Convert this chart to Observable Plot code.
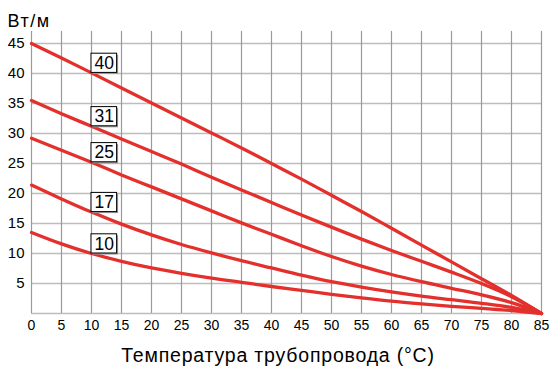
<!DOCTYPE html>
<html>
<head>
<meta charset="utf-8">
<style>
  body { margin: 0; background: #fff; }
  #chart svg { font-family: "Liberation Sans", Arial, sans-serif; color: #000; }
</style>
<script src="https://cdn.jsdelivr.net/npm/d3@7"></script>
<script src="https://cdn.jsdelivr.net/npm/@observablehq/plot@0.6"></script>
</head>
<body>
<div id="chart"></div>
<script>
// Pipe temperature (°C)
const temps = [0, 5, 10, 15, 20, 25, 30, 35, 40, 45, 50, 55, 60, 65, 70, 75, 80, 85];
// Heat output (W/m) per cable type
const w40 = [45, 42.6, 40.1, 37.6, 35.1, 32.6, 30.1, 27.6, 25.0, 22.4, 19.7, 17.0, 14.2, 11.4, 8.6, 5.8, 3.0, 0];
const w31 = [35.5, 33.3, 31.2, 29.1, 27.0, 24.9, 22.7, 20.6, 18.5, 16.4, 14.4, 12.4, 10.5, 8.7, 6.9, 5.0, 2.8, 0];
const w25 = [29.2, 27.2, 25.2, 23.1, 21.1, 19.1, 17.1, 15.1, 13.2, 11.3, 9.5, 7.9, 6.5, 5.3, 4.2, 3.1, 1.8, 0];
const w17 = [21.4, 19.1, 16.9, 14.9, 13.1, 11.5, 10.1, 8.8, 7.6, 6.4, 5.3, 4.4, 3.6, 2.9, 2.3, 1.7, 1.0, 0];
const w10 = [13.5, 11.6, 10.0, 8.7, 7.6, 6.7, 5.9, 5.2, 4.5, 3.85, 3.2, 2.6, 2.05, 1.6, 1.2, 0.85, 0.5, 0];
const seriesNames = ["40", "31", "25", "17", "10"];
const seriesValues = [w40, w31, w25, w17, w10];
const labelTemp = 10;

const xTicks = [0, 5, 10, 15, 20, 25, 30, 35, 40, 45, 50, 55, 60, 65, 70, 75, 80, 85];
const yTicks = [5, 10, 15, 20, 25, 30, 35, 40, 45];
const yGrid = [0, 5, 10, 15, 20, 25, 30, 35, 40, 45];
const yLabel = "Вт/м";
const xLabel = "Температура трубопровода (°C)";

const rows = seriesNames.flatMap((name, i) =>
  temps.map((t, j) => ({series: name, t, w: seriesValues[i][j]})));
const labels = seriesNames.map((name, i) =>
  ({series: name, t: labelTemp, w: seriesValues[i][temps.indexOf(labelTemp)]}));

// label box size in data units (styling)
const boxW = 4.27, boxH = 3.2;

const chart = Plot.plot({
  width: 553,
  height: 380,
  marginLeft: 31,
  marginRight: 12,
  marginTop: 31,
  marginBottom: 67,
  x: {domain: [0, 85]},
  y: {domain: [0, 47]},
  marks: [
    Plot.gridY(yGrid, {stroke: "#bdbdbd", strokeOpacity: 1, strokeWidth: 1.6}),
    Plot.gridX(xTicks, {stroke: "#9a9a9a", strokeOpacity: 1, strokeWidth: 1.2}),
    Plot.axisX(xTicks, {tickSize: 0, tickPadding: 7, fontSize: 14, label: null}),
    Plot.axisY(yTicks, {tickSize: 0, tickPadding: 7, fontSize: 15, label: null}),
    Plot.line(rows, {x: "t", y: "w", z: "series", stroke: "#e3302c", strokeWidth: 3.3, curve: "monotone-x"}),
    Plot.rect(labels, {x1: "t", x2: d => d.t + boxW, y1: "w", y2: d => d.w + boxH, fill: "#9a9a9a", dx: 1.5, dy: 1.5}),
    Plot.rect(labels, {x1: "t", x2: d => d.t + boxW, y1: "w", y2: d => d.w + boxH, fill: "white", stroke: "black", strokeWidth: 1}),
    Plot.text(labels, {x: d => d.t + boxW / 2, y: d => d.w + boxH / 2, text: "series", fontSize: 17.5, fill: "black"}),
    Plot.text([yLabel], {frameAnchor: "top-left", textAnchor: "start", dx: -24, dy: -17, fontSize: 18, fill: "black"}),
    Plot.text([xLabel], {frameAnchor: "bottom", dx: -8.5, dy: 48.5, fontSize: 19.5, fill: "black"})
  ]
});

d3.select(chart).selectAll("text").filter(function() { return this.textContent === xLabel; })
  .attr("letter-spacing", "0.8px");
d3.select(chart).selectAll("text").filter(function() { return this.textContent === yLabel; })
  .attr("letter-spacing", "1.5px");
document.getElementById("chart").append(chart);
</script>
</body>
</html>
